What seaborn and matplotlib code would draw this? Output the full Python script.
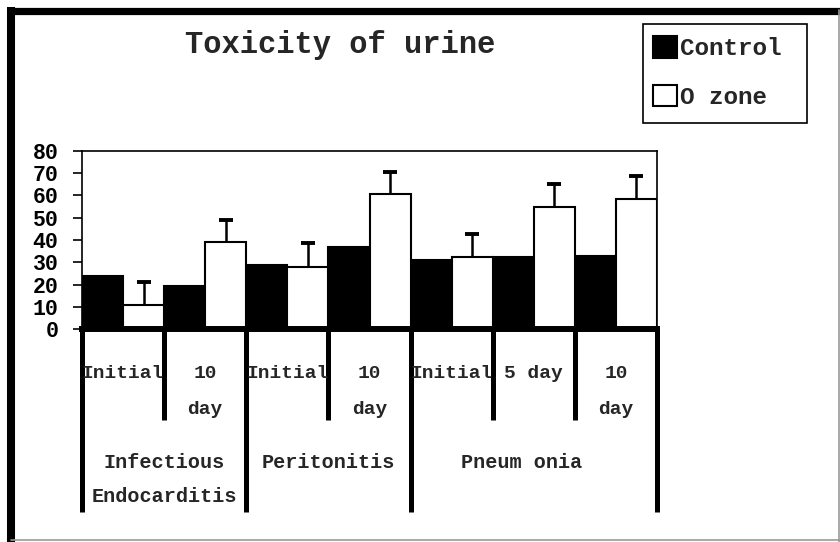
import numpy as np
import pandas as pd
import seaborn as sns
import matplotlib
matplotlib.use("Agg")
import matplotlib.pyplot as plt
from matplotlib.patches import Patch, Rectangle
from matplotlib.lines import Line2D
from matplotlib.transforms import blended_transform_factory

# ---------------- data ----------------
conditions = ["IE_initial", "IE_10", "P_initial", "P_10", "PN_initial", "PN_5", "PN_10"]
sub_labels = ["Initial", "10\nday", "Initial", "10\nday", "Initial", "5 day", "10\nday"]
group_labels = ["Infectious\nEndocarditis", "Peritonitis", "Pneum onia"]
group_sizes = [2, 2, 3]
series_names = ["Control", "O zone"]
control_values = [24, 19.5, 29, 37, 31, 32.5, 33]
ozone_values = [11, 39, 28, 60.5, 32.5, 55, 58.5]
ozone_err = [10, 10, 10.5, 10, 10, 10, 10]
y_ticks = [0, 10, 20, 30, 40, 50, 60, 70, 80]
title = "Toxicity of urine"

df = pd.DataFrame({
    "cond": conditions * 2,
    "value": control_values + ozone_values,
    "series": [series_names[0]] * len(conditions) + [series_names[1]] * len(conditions),
})

sns.set_style("white")
plt.rcParams["font.family"] = ["Liberation Mono", "DejaVu Sans"]
plt.rcParams["font.weight"] = "bold"

W, H = 840, 542
fig = plt.figure(figsize=(W / 100, H / 100), dpi=100)
ax = fig.add_axes([82 / W, 1 - 329.3 / H, (657 - 82) / W, (329.3 - 150.7) / H])

sns.barplot(data=df, x="cond", y="value", hue="series", order=conditions,
            hue_order=series_names, palette=["black", "white"], edgecolor="black",
            linewidth=1.5, width=1.0, dodge=True, errorbar=None, legend=False,
            saturation=1, ax=ax)

# one-sided error bars on O zone bars
oz = ax.containers[1]
xs = [p.get_x() + p.get_width() / 2 for p in oz]
hs = [p.get_height() for p in oz]
eb = ax.errorbar(xs, hs, yerr=[np.zeros(len(hs)), ozone_err], fmt="none", ecolor="black",
                 elinewidth=1.8, capsize=4.7, capthick=2.8, zorder=3)
eb[1][0].set_visible(False)  # hide lower cap

n = len(conditions)
ax.set_xlim(-0.5, n - 0.5)
ax.set_ylim(0, 80)
ax.set_yticks(y_ticks)
ax.set_yticklabels([str(t) for t in y_ticks], fontsize=15.5, fontweight="bold")
ax.tick_params(axis="y", direction="out", length=6.5, width=1.2, pad=10.5, left=True, colors="black")
ax.set_xlabel("")
ax.set_ylabel("")

# group boundaries (long ticks) and sub boundaries (short ticks)
bounds = np.arange(n + 1) - 0.5
group_edges = np.cumsum([0] + group_sizes)
long_pos = [bounds[i] for i in group_edges]
short_pos = [bounds[i] for i in range(n + 1) if i not in group_edges]
ax.set_xticks(long_pos)
ax.set_xticklabels([""] * len(long_pos))
ax.set_xticks(short_pos, minor=True)
ax.set_xticklabels([""] * len(short_pos), minor=True)
ax.tick_params(axis="x", which="major", direction="out", length=132, width=3.6, bottom=True, colors="black")
ax.tick_params(axis="x", which="minor", direction="out", length=65.5, width=3.6, bottom=True, colors="black")

for s in ["left", "top", "right"]:
    ax.spines[s].set_visible(True)
    ax.spines[s].set_color("black")
    ax.spines[s].set_linewidth(1.2)
ax.spines["bottom"].set_linewidth(4.3)
ax.spines["bottom"].set_color("black")
ax.spines["bottom"].set_capstyle("projecting")

# category labels
tr = blended_transform_factory(ax.transData, fig.transFigure)
row_y = [373, 410]
for i, lab in enumerate(sub_labels):
    for j, line in enumerate(lab.split("\n")):
        ax.text(i, 1 - row_y[j] / H, line, transform=tr, ha="center", va="center",
                fontsize=14, fontweight="bold", clip_on=False)
grow_y = [463, 497]
for g, lab in enumerate(group_labels):
    cx = (bounds[group_edges[g]] + bounds[group_edges[g + 1]]) / 2
    if g == len(group_labels) - 1:
        cx -= 0.15
    for j, line in enumerate(lab.split("\n")):
        ax.text(cx, 1 - grow_y[j] / H, line, transform=tr, ha="center", va="center",
                fontsize=14.5, fontweight="bold", clip_on=False)

# title
fig.text(340 / W, 1 - 45 / H, title, ha="center", va="center", fontsize=22, fontweight="bold")

# legend
handles = [Patch(facecolor="black", edgecolor="black", linewidth=1.5),
           Patch(facecolor="white", edgecolor="black", linewidth=1.5)]
leg = fig.legend(handles, series_names, loc="upper left",
                 bbox_to_anchor=(653 / W, 1 - 36 / H), borderaxespad=0,
                 prop={"family": "Liberation Mono", "weight": "bold", "size": 17.5},
                 handlelength=1.0, handleheight=1.0, handletextpad=0.1,
                 labelspacing=1.0, borderpad=0.0, frameon=False)
fig.add_artist(Rectangle((643 / W, 1 - 123 / H), (807 - 643) / W, (123 - 24) / H,
                         transform=fig.transFigure, facecolor="none", edgecolor="black",
                         linewidth=1.2))

# outer frame
fig.add_artist(Line2D([11 / W, 11 / W], [0, 1 - 7 / H], color="black", linewidth=5.8,
                      transform=fig.transFigure, solid_capstyle="butt"))
fig.add_artist(Line2D([7 / W, 1], [1 - 10.5 / H, 1 - 10.5 / H], color="black", linewidth=5.2,
                      transform=fig.transFigure, solid_capstyle="butt"))
fig.add_artist(Line2D([1 - 1.5 / W, 1 - 1.5 / W], [0, 1 - 10 / H], color="#999999", linewidth=1.2,
                      transform=fig.transFigure))
fig.add_artist(Line2D([11 / W, 1], [2 / H, 2 / H], color="#999999", linewidth=1.2,
                      transform=fig.transFigure))

fig.savefig("out.png", dpi=100, facecolor="white")
